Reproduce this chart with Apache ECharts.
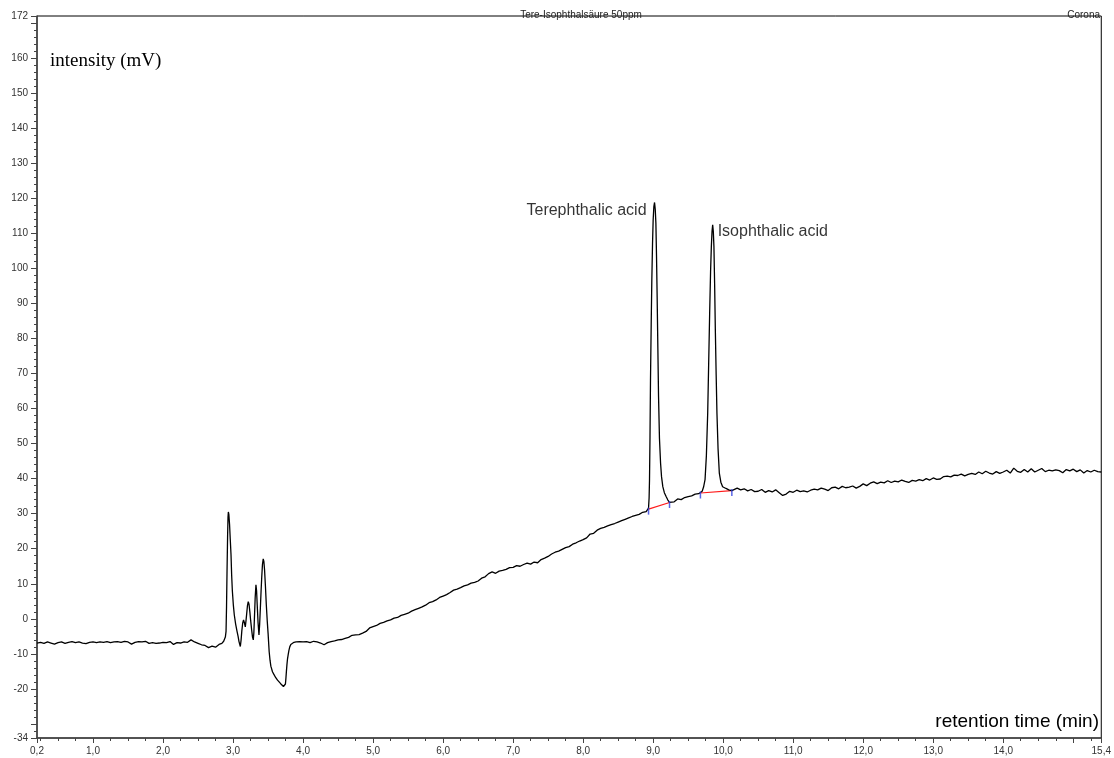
<!DOCTYPE html>
<html>
<head>
<meta charset="utf-8">
<title>Tere-Isophthalsäure 50ppm</title>
<script src="https://cdn.jsdelivr.net/npm/echarts@6/dist/echarts.min.js"></script>
<style>
  html, body { margin: 0; padding: 0; background: #fff; }
  #chart { width: 1114px; height: 758px; }
</style>
</head>
<body>
<div id="chart"></div>
<script>
// Chromatogram trace, [retention time (min), intensity (mV)]
const traceStart = [
  [0.20,-6.9],[0.25,-6.7],[0.30,-7.0],[0.35,-6.6],[0.40,-6.9],[0.45,-7.2],[0.50,-6.8],[0.55,-6.6],
  [0.60,-7.0],[0.65,-6.7],[0.70,-6.5],[0.75,-6.8],[0.80,-6.6],[0.85,-6.9],[0.90,-7.1],[0.95,-6.7],
  [1.00,-6.6],[1.05,-6.8],[1.10,-6.6],[1.15,-6.7],[1.20,-6.5],[1.25,-6.8],[1.30,-6.6],[1.35,-6.5],
  [1.40,-6.7],[1.45,-6.4],[1.50,-6.6],[1.55,-7.2],[1.60,-6.7],[1.65,-6.5],[1.70,-6.6],[1.75,-6.4],
  [1.80,-7.0],[1.85,-6.8],[1.90,-7.0],[1.95,-6.9],[2.00,-6.7],[2.05,-6.8],[2.10,-6.5],[2.15,-7.3],
  [2.20,-6.8],[2.25,-6.9],[2.30,-6.6],[2.35,-6.7],[2.40,-6.0],[2.45,-6.6],[2.50,-7.0],[2.55,-7.4],
  [2.60,-7.6],[2.65,-8.2],[2.70,-7.8],[2.75,-8.1],[2.80,-7.3],[2.84,-7.0]
];
const traceSolventFront = [
  [2.866,-6.4],[2.876,-6.0],[2.890,-5.2],[2.900,-3.6],[2.907,3.5],[2.914,13.5],[2.922,23.5],
  [2.928,29.0],[2.933,30.5],[2.940,29.8],[2.950,27.0],[2.960,22.8],[2.971,18.3],[2.980,12.5],
  [2.990,8.0],[3.004,4.0],[3.018,1.1],[3.037,-1.5],[3.057,-3.6],[3.072,-5.0],[3.085,-6.5],
  [3.104,-7.9],[3.115,-6.0],[3.125,-3.5],[3.138,-1.2],[3.150,-0.3],[3.163,-1.2],[3.175,-2.3],
  [3.185,-0.5],[3.195,1.5],[3.206,3.8],[3.217,4.9],[3.228,4.2],[3.240,2.0],[3.252,-0.6],
  [3.265,-3.0],[3.278,-5.2],[3.289,-6.0],[3.297,-4.0],[3.305,0.0],[3.316,6.0],[3.327,9.7],
  [3.336,8.0],[3.345,4.0],[3.357,-1.0],[3.370,-4.6],[3.380,-1.5],[3.390,3.0],[3.400,7.8],
  [3.410,12.0],[3.420,15.5],[3.431,17.1],[3.440,16.4],[3.450,14.0],[3.462,9.5],[3.475,4.0],
  [3.488,-0.5],[3.500,-4.0],[3.516,-9.4],[3.528,-11.8],[3.540,-13.5],[3.563,-15.1],[3.585,-15.9],
  [3.610,-16.8],[3.635,-17.5],[3.659,-18.0],[3.680,-18.5],[3.700,-19.0],[3.720,-19.3],
  [3.740,-19.7],[3.748,-18.6],[3.755,-17.0],[3.762,-15.0],[3.770,-13.0],[3.778,-11.4],
  [3.787,-10.3],[3.798,-9.0],[3.810,-8.0],[3.825,-7.3],[3.844,-6.8],[3.87,-6.7],[3.90,-6.6],
  [3.95,-6.5],[4.00,-6.6]
];
const traceGradient = [
  [4.05,-6.5],[4.10,-6.8],[4.15,-6.4],[4.20,-6.6],[4.25,-6.9],[4.30,-7.4],[4.35,-6.8],[4.40,-6.5],
  [4.45,-6.3],[4.50,-6.0],[4.55,-5.9],[4.60,-5.6],[4.65,-5.3],[4.70,-4.7],[4.75,-4.6],[4.80,-4.5],
  [4.85,-4.1],[4.90,-3.6],[4.95,-2.6],[5.00,-2.2],[5.05,-1.9],[5.10,-1.3],[5.15,-1.0],[5.20,-0.6],
  [5.25,-0.3],[5.30,0.2],[5.35,0.4],[5.40,1.0],[5.45,1.3],[5.50,1.6],[5.55,2.2],[5.60,2.6],
  [5.65,3.0],[5.70,3.4],[5.75,3.9],[5.80,4.6],[5.85,4.9],[5.90,5.4],[5.95,6.1],[6.00,6.5],
  [6.05,6.9],[6.10,7.5],[6.15,8.2],[6.20,8.5],[6.25,8.9],[6.30,9.4],[6.35,9.7],[6.40,10.2],
  [6.45,10.4],[6.50,10.8],[6.55,11.6],[6.60,12.0],[6.65,12.9],[6.70,13.4],[6.75,13.0],[6.80,13.6],
  [6.85,13.8],[6.90,14.1],[6.95,14.6],[7.00,14.7],[7.05,15.2],[7.10,15.0],[7.15,15.5],[7.20,15.9],
  [7.25,15.6],[7.30,16.2],[7.35,16.0],[7.40,16.9],[7.45,17.3],[7.50,17.8],[7.55,18.5],[7.60,19.0],
  [7.65,19.3],[7.70,19.8],[7.75,20.3],[7.80,20.6],[7.85,21.3],[7.90,21.7],[7.95,22.2],[8.00,22.6],
  [8.05,23.1],[8.10,24.2],[8.15,24.4],[8.20,25.3],[8.25,25.8],[8.30,26.1],[8.35,26.5],[8.40,26.9],
  [8.45,27.2],[8.50,27.6],[8.55,28.0],[8.60,28.4],[8.65,28.8],[8.70,29.2],[8.75,29.5],[8.80,29.8],
  [8.85,30.4],[8.90,30.6]
];
const traceTerephthalic = [
  [8.934,31.6],[8.942,34.5],[8.948,39.7],[8.955,52.0],[8.962,68.2],[8.972,84.0],[8.981,96.7],
  [8.991,107.0],[9.000,113.8],[9.010,117.6],[9.020,118.8],[9.030,116.8],[9.039,112.9],
  [9.048,103.5],[9.057,92.0],[9.067,77.5],[9.077,63.4],[9.090,51.5],[9.106,44.4],[9.120,40.5],
  [9.138,37.7],[9.160,36.0],[9.185,34.9],[9.210,33.9],[9.234,33.2]
];
const traceBetween = [
  [9.26,33.6],[9.30,33.4],[9.35,34.2],[9.40,34.0],[9.45,34.6],[9.50,34.9],[9.55,35.1],[9.60,35.6],
  [9.65,35.7]
];
const traceIsophthalic = [
  [9.675,35.9],[9.700,36.4],[9.720,37.6],[9.741,39.7],[9.760,46.5],[9.779,58.7],[9.793,73.0],
  [9.807,87.2],[9.820,99.0],[9.831,106.2],[9.841,110.6],[9.850,112.4],[9.859,110.6],
  [9.868,106.2],[9.878,95.5],[9.888,82.5],[9.900,69.5],[9.911,58.7],[9.927,48.5],[9.945,41.6],
  [9.967,39.0],[9.992,37.7],[10.04,37.2],[10.08,36.8],[10.124,36.6]
];
const traceTail = [
  [10.15,37.0],[10.20,37.3],[10.25,36.8],[10.30,37.1],[10.35,36.5],[10.40,36.9],[10.45,36.3],
  [10.50,36.4],[10.55,36.9],[10.60,36.1],[10.65,36.6],[10.70,36.2],[10.75,36.8],[10.80,36.0],
  [10.85,35.2],[10.90,35.6],[10.95,36.4],[11.00,36.1],[11.05,36.7],[11.10,36.3],[11.15,36.5],
  [11.20,36.2],[11.25,36.7],[11.30,37.0],[11.35,36.8],[11.40,37.3],[11.45,37.0],[11.50,36.6],
  [11.55,37.4],[11.60,37.6],[11.65,37.1],[11.70,37.8],[11.75,37.4],[11.80,37.6],[11.85,37.9],
  [11.90,37.3],[11.95,37.8],[12.00,38.5],[12.05,38.0],[12.10,38.7],[12.15,39.1],[12.20,38.6],
  [12.25,39.0],[12.30,38.8],[12.35,39.4],[12.40,38.9],[12.45,39.3],[12.50,39.1],[12.55,39.6],
  [12.60,39.2],[12.65,38.9],[12.70,39.5],[12.75,39.3],[12.80,39.7],[12.85,39.4],[12.90,40.0],
  [12.95,39.6],[13.00,40.2],[13.05,39.8],[13.10,39.9],[13.15,40.6],[13.20,40.7],[13.25,40.5],
  [13.30,41.0],[13.35,40.9],[13.40,41.3],[13.45,40.8],[13.50,41.2],[13.55,41.5],[13.60,41.2],
  [13.65,41.9],[13.70,41.4],[13.75,42.1],[13.80,41.6],[13.85,41.3],[13.90,42.0],[13.95,41.5],
  [14.00,41.9],[14.05,42.4],[14.10,41.6],[14.15,43.0],[14.20,42.1],[14.25,41.8],[14.30,42.6],
  [14.35,41.9],[14.40,42.8],[14.45,41.9],[14.50,42.4],[14.55,42.9],[14.60,42.0],[14.65,42.4],
  [14.70,42.2],[14.75,42.5],[14.80,42.3],[14.85,41.7],[14.90,42.6],[14.95,42.2],[15.00,42.7],
  [15.05,42.0],[15.10,42.5],[15.15,41.6],[15.20,42.3],[15.25,41.9],[15.30,42.4],[15.35,42.0],
  [15.40,41.9]
];

// Integration baselines (start / end of each peak)
const integrationTerephthalic = [[8.934,31.3],[9.234,33.2]];
const integrationIsophthalic = [[9.675,35.9],[10.124,36.6]];

// Peak annotations
const peakNames = ['Terephthalic acid', 'Isophthalic acid'];
const peakApex = [[9.020,118.8],[9.850,112.4]];

// Axis ranges and labelled ticks
const xRange = [0.2, 15.4];
const yRange = [-34, 172];
const xLabelValues = [0.2,1,2,3,4,5,6,7,8,9,10,11,12,13,14,15.4];
const xMajorTicks = [0.2,1,2,3,4,5,6,7,8,9,10,11,12,13,14,15,15.4];
const yLabelValues = [-34,-20,-10,0,10,20,30,40,50,60,70,80,90,100,110,120,130,140,150,160,172];
const yMajorTicks = [-34,-30,-20,-10,0,10,20,30,40,50,60,70,80,90,100,110,120,130,140,150,160,170,172];

const xMinorTicks = [];
for (let i = 1; i <= 61; i++) {
  const v = i * 0.25;
  if (v > xRange[0] && v < xRange[1] && v % 1 !== 0) xMinorTicks.push(v);
}
const yMinorTicks = [];
for (let v = -32; v <= 170; v += 2) {
  if (v % 10 !== 0) yMinorTicks.push(v);
}

const trace = [].concat(traceStart, traceSolventFront, traceGradient, traceTerephthalic,
  traceBetween, traceIsophthalic, traceTail);

const axisColor = '#444';
const labelFont = { fontFamily: 'Liberation Sans, Arial, sans-serif', fontSize: 10, color: '#333' };

const chart = echarts.init(document.getElementById('chart'), null, { renderer: 'canvas' });

chart.setOption({
  animation: false,
  backgroundColor: '#fff',
  title: [
    {
      text: 'Tere-Isophthalsäure 50ppm',
      left: 576, top: 5, textAlign: 'center',
      textStyle: { fontFamily: 'Liberation Sans, Arial, sans-serif', fontSize: 10, fontWeight: 'normal', color: '#222' }
    },
    {
      text: 'Corona',
      right: 9, top: 5,
      textStyle: { fontFamily: 'Liberation Sans, Arial, sans-serif', fontSize: 10, fontWeight: 'normal', color: '#222' }
    },
    {
      text: 'intensity (mV)',
      left: 45, top: 47,
      textStyle: { fontFamily: 'Liberation Serif, Times New Roman, serif', fontSize: 19, fontWeight: 'normal', color: '#000' }
    },
    {
      text: 'retention time (min)',
      right: 10, top: 707,
      textStyle: { fontFamily: 'Liberation Sans, Arial, sans-serif', fontSize: 19, fontWeight: 'normal', color: '#000' }
    }
  ],
  grid: {
    left: 37, right: 9, top: 16, bottom: 20,
    show: true, borderColor: '#000', borderWidth: 1, backgroundColor: 'transparent'
  },
  xAxis: [
    {
      type: 'value', min: xRange[0], max: xRange[1], position: 'bottom',
      axisLine: { show: true, onZero: false, lineStyle: { color: axisColor, width: 1.5 } },
      axisTick: { show: true, length: 5, customValues: xMajorTicks, lineStyle: { color: axisColor } },
      axisLabel: Object.assign({
        show: true, margin: 8, customValues: xLabelValues,
        formatter: v => v.toFixed(1).replace('.', ',')
      }, labelFont),
      splitLine: { show: false }
    },
    {
      type: 'value', min: xRange[0], max: xRange[1], position: 'bottom', offset: 0,
      axisLine: { show: false, onZero: false },
      axisTick: { show: true, length: 3, customValues: xMinorTicks, lineStyle: { color: axisColor } },
      axisLabel: { show: false },
      splitLine: { show: false }
    }
  ],
  yAxis: [
    {
      type: 'value', min: yRange[0], max: yRange[1], position: 'left',
      axisLine: { show: true, onZero: false, lineStyle: { color: axisColor, width: 1.5 } },
      axisTick: { show: true, length: 6, customValues: yMajorTicks, lineStyle: { color: axisColor } },
      axisLabel: Object.assign({
        show: true, margin: 9, customValues: yLabelValues,
        formatter: v => String(v)
      }, labelFont),
      splitLine: { show: false }
    },
    {
      type: 'value', min: yRange[0], max: yRange[1], position: 'left', offset: 0,
      axisLine: { show: false, onZero: false },
      axisTick: { show: true, length: 3, customValues: yMinorTicks, lineStyle: { color: axisColor } },
      axisLabel: { show: false },
      splitLine: { show: false }
    }
  ],
  series: [
    {
      name: 'integration Terephthalic', type: 'line', data: integrationTerephthalic,
      showSymbol: false, silent: true, z: 2,
      lineStyle: { color: '#ff1a1a', width: 1.2 }
    },
    {
      name: 'integration Isophthalic', type: 'line', data: integrationIsophthalic,
      showSymbol: false, silent: true, z: 2,
      lineStyle: { color: '#ff1a1a', width: 1.2 }
    },
    {
      name: 'signal', type: 'line', data: trace,
      showSymbol: false, smooth: false, silent: true, z: 3,
      lineStyle: { color: '#000', width: 1.3 }
    },
    {
      name: 'peak bounds', type: 'scatter', silent: true, z: 4,
      data: integrationTerephthalic.concat(integrationIsophthalic),
      symbol: 'rect', symbolSize: [1.5, 7], symbolOffset: [0, 2],
      itemStyle: { color: '#2f3fe0' }
    },
    {
      name: 'peak names', type: 'scatter', silent: true, z: 5,
      symbolSize: 0,
      data: [
        { value: peakApex[0], name: peakNames[0],
          label: { position: 'left', distance: 8, offset: [0, 8] } },
        { value: peakApex[1], name: peakNames[1],
          label: { position: 'right', distance: 5, offset: [0, 7] } }
      ],
      label: {
        show: true, formatter: p => p.name,
        fontFamily: 'Liberation Sans, Arial, sans-serif', fontSize: 16, color: '#000'
      }
    }
  ]
});
</script>
</body>
</html>
